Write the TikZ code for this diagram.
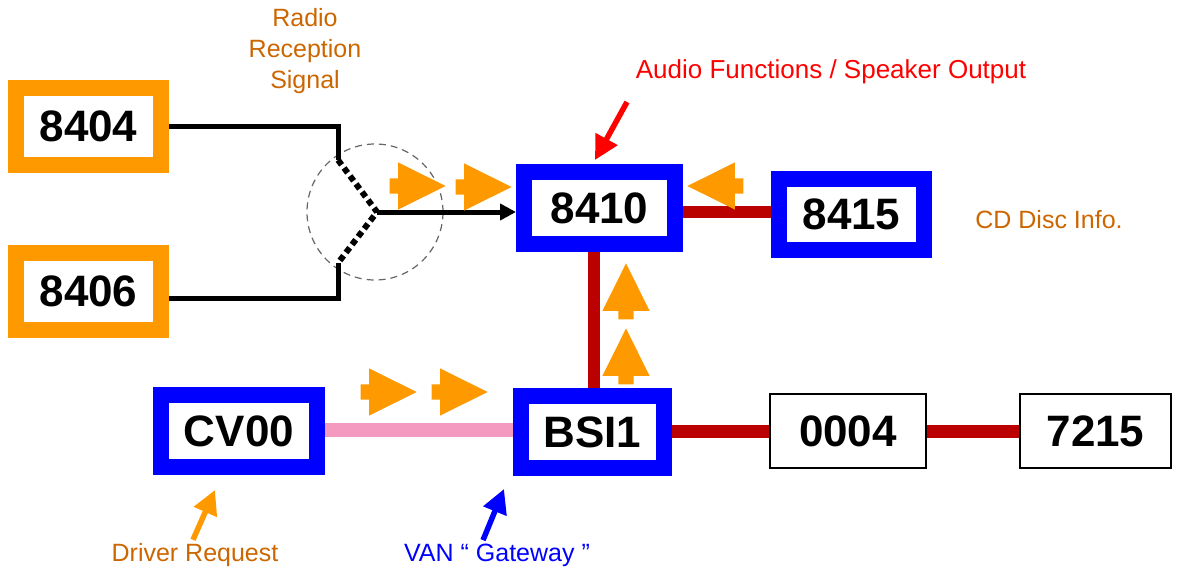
\documentclass[tikz,border=0pt]{standalone}
\usepackage{fontspec}
\setmainfont{Liberation Sans}
\usetikzlibrary{positioning,arrows.meta,shapes.arrows,backgrounds}
\definecolor{boxorange}{HTML}{FF9900}
\definecolor{textorange}{HTML}{CC6600}
\definecolor{busred}{HTML}{BB0000}
\definecolor{vanpink}{HTML}{F49AC1}
\definecolor{boxblue}{HTML}{0000FF}

\begin{document}
\begin{tikzpicture}[x=1pt, y=-1pt,
  ecu/.style={draw=boxblue, line width=16pt, fill=white, inner sep=0pt, font=\bfseries\fontsize{44}{44}\selectfont},
  radiobox/.style={ecu, draw=boxorange, minimum width=145pt, minimum height=77pt},
  plainbox/.style={ecu, draw=black, line width=1.5pt},
  wire/.style={line width=5pt},
  bus/.style={line width=12pt, busred},
  flow/.style={single arrow, fill=boxorange, inner xsep=0pt, inner ysep=7.5pt, minimum height=56pt, single arrow head extend=16pt, single arrow tip angle=53, anchor=tip},
  flowup/.style={flow, shape border rotate=90, inner xsep=7.5pt, inner ysep=0pt},
  lbl/.style={font=\fontsize{25}{31}\selectfont, align=center},
  ptr/.style={-{Triangle[width=24pt,length=24pt]}, line width=5.5pt},
  ]
  \useasboundingbox (0,0) rectangle (1177,572);

  % radio inputs
  \node[radiobox] (n8404) at (88.5,126.5) {8404};
  \node[radiobox] (n8406) at (88.5,291) {8406};
  \node[lbl, text=textorange] (lRadio) at (305,51) {Radio\\Reception\\Signal};

  % audio unit and CD changer
  \node[ecu, minimum width=151pt, minimum height=72pt] (n8410) at (599.5,208) {8410};
  \node[ecu, minimum width=145pt, minimum height=71pt] (n8415) at (851.5,214.5) {8415};
  \node[lbl, text=red, font=\fontsize{26}{31}\selectfont] (lAudio) at (831,72) {Audio Functions / Speaker Output};
  \node[lbl, text=textorange] (lCD) at (1049,220) {CD Disc Info.};

  % bottom row
  \node[ecu, minimum width=156pt, minimum height=72pt] (nCV00) at (239,431) {CV00};
  \node[ecu, minimum width=143pt, minimum height=72pt] (nBSI) at (592.5,432) {BSI1};
  \node[plainbox, minimum width=156pt, minimum height=74pt] (n0004) at (848,431) {0004};
  \node[plainbox, minimum width=151pt, minimum height=74pt] (n7215) at (1095.5,431) {7215};
  \node[lbl, text=textorange] (lDrv) at (195,555) {Driver Request};
  \node[lbl, text=boxblue] (lVan) at (497,555) {VAN “ Gateway ”};

  % switch
  \node[circle, draw=gray!80!black, line width=1.2pt, dash pattern=on 7pt off 5pt, minimum size=136pt, inner sep=0pt] (sw) at (375,212) {};
  \coordinate (k1) at (338,160);
  \coordinate (k2) at (338,263);
  \coordinate (pv) at (377,212);
  \draw[wire] (n8404.east) -| (k1);
  \draw[wire] (k2) |- ([yshift=-7pt]n8406.east);
  \draw[wire, dash pattern=on 6pt off 4pt, line width=6pt] (k1) -- (pv) -- (k2);
  \draw[wire, -{Triangle[width=16pt,length=16pt]}] (pv) -- (pv -| n8410.west);

  % buses
  \begin{scope}[on background layer]
    \draw[bus] ([yshift=-4pt]n8410.center) -- ([yshift=-4pt]n8410.center -| n8415.center);
    \draw[bus] ([xshift=1.5pt]nBSI.north) -- ([xshift=1.5pt]nBSI.north |- n8410.south);
    \draw[bus, line width=13pt] ([yshift=1pt]nBSI.center) -- ([yshift=1pt]nBSI.center -| n7215.center);
    \draw[line width=14pt, vanpink] ([yshift=1pt]nCV00.center) -- ([yshift=1pt]nCV00.center -| nBSI.center);
  \end{scope}

  % data flow
  \node[flow] (f1) at (446,186) {};
  \node[flow] (f2) at (512,187) {};
  \node[flow, shape border rotate=180] (f3) at (687,186) {};
  \node[flowup] (f4) at (626,263) {};
  \node[flowup] (f5) at (626,328) {};
  \node[flow] (f6) at (417,392) {};
  \node[flow] (f7) at (488,392) {};

  % pointers
  \coordinate (audtail) at (627,102);
  \draw[ptr, red] (audtail) -- ([xshift=-4.5pt,yshift=4pt]n8410.north);
  \draw[ptr, boxorange] ([xshift=-2pt]lDrv.north) -- ([xshift=-24pt,yshift=-15pt]nCV00.south);
  \draw[ptr, boxblue] ([xshift=-14pt]lVan.north) -- ([xshift=-88.5pt,yshift=-13pt]nBSI.south);
\end{tikzpicture}
\end{document}
